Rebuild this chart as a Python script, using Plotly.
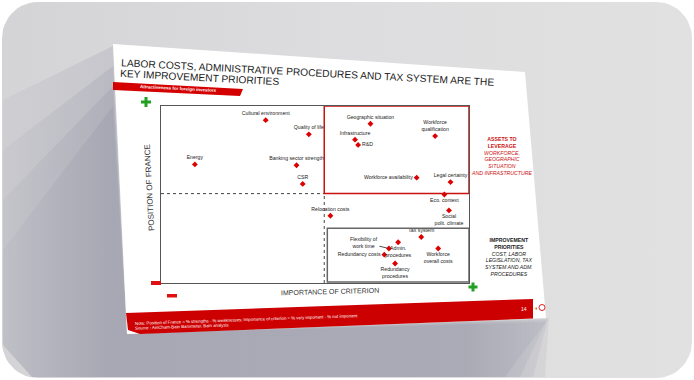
import numpy as np
import plotly.graph_objects as go

W, H = 694, 380

# ---------------- data (0-100 scale) ----------------
criteria = [
    "Cultural environment", "Quality of life", "Energy", "Banking sector strength", "CSR",
    "Geographic situation", "Infrastructure", "R&D", "Workforce<br>qualification",
    "Workforce availability", "Legal certainty", "Eco. context", "Relocation costs",
    "Social<br>polit. climate", "Tax system", "Flexibility of<br>work time",
    "Admin.<br>procedures", "Redundancy costs", "Redundancy<br>procedures",
    "Workforce<br>overall costs",
]
importance = [34, 48, 11, 44, 46, 68, 63, 64, 89, 83, 94, 92, 55, 93.5, 84.5, 74, 77, 72.5, 76, 90]
position_fr = [92, 84, 67, 66.5, 56, 90, 81, 78, 83, 59.5, 57, 50, 38, 41, 26, 19.5, 23, 16, 11, 19.5]

# styling of labels (kept apart from data)
label_side = {
    "R&D": "middle right",
    "Workforce availability": "middle left",
    "Eco. context": "bottom center",
    "Social<br>polit. climate": "bottom center",
    "Admin.<br>procedures": "bottom center",
    "Redundancy costs": "middle left",
    "Redundancy<br>procedures": "bottom center",
    "Workforce<br>overall costs": "bottom center",
}
arrow_labels = {"Flexibility of<br>work time": (-25, -6)}

title_lines = ["LABOR COSTS, ADMINISTRATIVE PROCEDURES AND TAX SYSTEM ARE THE",
               "KEY IMPROVEMENT PRIORITIES"]
tab_text = "Attractiveness for foreign investors"
y_title = "POSITION OF FRANCE"
x_title = "IMPORTANCE OF CRITERION"
assets_text = "<b>ASSETS TO<br>LEVERAGE</b><br><i>WORKFORCE,<br>GEOGRAPHIC<br>SITUATION<br>AND INFRASTRUCTURE</i>"
priorities_text = "<b>IMPROVEMENT<br>PRIORITIES</b><br><i>COST, LABOR<br>LEGISLATION, TAX<br>SYSTEM AND ADM.<br>PROCEDURES</i>"
note_text = "Note: Position of France = % strengths - % weaknesses; Importance of criterion = % very important - % not important"
source_text = "Source : AmCham-Bain Barometer, Bain analysis"
page_no = "14"

# ---------------- figure ----------------
fig = go.Figure()

def rrect(x0, y0, x1, y1, r, n=14):
    xs, ys = [], []
    for cx, cy, a0 in [(x1 - r, y0 + r, -90), (x1 - r, y1 - r, 0), (x0 + r, y1 - r, 90), (x0 + r, y0 + r, 180)]:
        t = np.radians(np.linspace(a0, a0 + 90, n))
        xs += list(cx + r * np.cos(t))
        ys += list(cy + r * np.sin(t))
    return xs + [xs[0]], ys + [ys[0]]

def poly(pts, **kw):
    xs = [p[0] for p in pts] + [pts[0][0]]
    ys = [p[1] for p in pts] + [pts[0][1]]
    fig.add_trace(go.Scatter(x=xs, y=ys, mode="lines", fill="toself", line=dict(width=0),
                             hoverinfo="skip", showlegend=False, xaxis="x", yaxis="y", **kw))

# background panel
px_, py_ = rrect(2, 2, 692, 378, 36)
fig.add_trace(go.Scatter(x=px_, y=py_, mode="lines", fill="toself", line=dict(width=0),
                         fillgradient=dict(type="horizontal", colorscale=[[0, "#d4d4d7"], [0.5, "#dddddf"], [1, "#e1e1e1"]]),
                         hoverinfo="skip", showlegend=False, xaxis="x", yaxis="y"))
# soft shadow of the slide (stacked layers)
shadow_layers = [
    ((113, 46), (3, 100), (545, 377), (549, 318)),
    ((113, 66), (3, 150), (533, 377), (548, 319)),
    ((113, 86), (3, 200), (520, 377), (547, 320)),
    ((113, 106), (3, 250), (505, 377), (546, 322)),
]
for top, left, bot, right in shadow_layers:
    poly([top, left, (3, 345), (32, 377), bot, right, (127, 334)],
         fillgradient=dict(type="horizontal",
                           colorscale=[[0, "rgba(140,140,158,0.08)"], [0.2, "rgba(140,140,158,0.22)"],
                                       [0.85, "rgba(140,140,158,0.22)"], [1, "rgba(140,140,158,0.12)"]]))
# slide
poly([(113, 44), (525, 72), (546, 318), (127, 334)], fillcolor="#ffffff")
# red footer band
poly([(126, 313), (533, 299), (533, 318.5), (140, 334), (128, 330)], fillcolor="#cc0000")
# red tab
poly([(113, 82), (243, 89), (240, 96), (113, 90)], fillcolor="#d40000")

# data trace
texts = ["" if c in arrow_labels else c for c in criteria]
tpos = [label_side.get(c, "top center") for c in criteria]
fig.add_trace(go.Scatter(
    x=importance, y=position_fr, mode="markers+text", text=texts, textposition=tpos,
    marker=dict(symbol="diamond", size=4.5, color="#dd0000"),
    textfont=dict(family="Liberation Sans", size=5.2, color="#222222"),
    hoverinfo="skip", showlegend=False, xaxis="x2", yaxis="y2", cliponaxis=False))

fx0, fx1, fy0, fy1 = 161, 469, 106, 283
fig.update_layout(
    width=W, height=H, margin=dict(l=0, r=0, t=0, b=0),
    paper_bgcolor="#ffffff", plot_bgcolor="rgba(0,0,0,0)",
    xaxis=dict(domain=[0, 1], range=[0, W], visible=False, fixedrange=True),
    yaxis=dict(domain=[0, 1], range=[H, 0], visible=False, fixedrange=True),
    xaxis2=dict(domain=[fx0 / W, fx1 / W], range=[0, 100], showgrid=False, zeroline=False,
                showticklabels=False, ticks="", showline=True, mirror=True, linecolor="#555555",
                linewidth=1.2, anchor="y2", fixedrange=True),
    yaxis2=dict(domain=[1 - fy1 / H, 1 - fy0 / H], range=[0, 100], showgrid=False, zeroline=False,
                showticklabels=False, ticks="", showline=True, mirror=True, linecolor="#555555",
                linewidth=1.2, anchor="x2", fixedrange=True),
    showlegend=False,
)

shapes = []
# quadrant lines and boxes
shapes.append(dict(type="line", xref="x2", yref="y2", x0=0, x1=53, y0=50.5, y1=50.5,
                   line=dict(color="#444444", width=1, dash="dot")))
shapes.append(dict(type="line", xref="x2", yref="y2", x0=53, x1=53, y0=0, y1=50.5,
                   line=dict(color="#444444", width=1, dash="dot")))
shapes.append(dict(type="rect", xref="x2", yref="y2", x0=53, x1=100, y0=50.5, y1=100,
                   line=dict(color="#cc1111", width=1.5)))
shapes.append(dict(type="rect", xref="x2", yref="y2", x0=54, x1=100, y0=0.5, y1=31,
                   line=dict(color="#666666", width=1.5)))
# plus / minus signs (pixel coords on background axes)
def plus(cx, cy, s, t):
    return [dict(type="rect", xref="x", yref="y", x0=cx - s / 2, x1=cx + s / 2, y0=cy - t / 2, y1=cy + t / 2,
                 fillcolor="#22a022", line=dict(width=0)),
            dict(type="rect", xref="x", yref="y", x0=cx - t / 2, x1=cx + t / 2, y0=cy - s / 2, y1=cy + s / 2,
                 fillcolor="#22a022", line=dict(width=0))]
shapes += plus(146, 102, 10, 3)
shapes += plus(473, 287, 9, 3)
for (a, b, c, d) in [(151, 281, 161, 285), (167, 294, 177, 297.5)]:
    shapes.append(dict(type="rect", xref="x", yref="y", x0=a, x1=c, y0=b, y1=d,
                       fillcolor="#e01010", line=dict(width=0)))
# footer icons
shapes.append(dict(type="circle", xref="x", yref="y", x0=539, x1=545, y0=304.5, y1=310.5,
                   line=dict(color="#dd2222", width=1)))
fig.update_layout(shapes=shapes)

ann = []
def txt(x, y, t, size, color="#222222", angle=0, bold=False, xanchor="center", family="Liberation Sans", align="center"):
    ann.append(dict(x=x, y=y, xref="x", yref="y", text=("<b>%s</b>" % t) if bold else t, showarrow=False,
                    textangle=angle, xanchor=xanchor, yanchor="middle", align=align,
                    font=dict(size=size, color=color, family=family)))

txt(308, 72, title_lines[0], 10.2, "#1a1a1a", 3)
txt(199, 77, title_lines[1], 10.2, "#1a1a1a", 3)
txt(178, 88.5, tab_text, 4.5, "#ffffff", 3, bold=True)
txt(149, 188, y_title, 8, "#333333", -93)
txt(330, 291.5, x_title, 7, "#333333", -1.5)
txt(501, 156, assets_text, 5.2, "#cc1111", 0)
txt(509, 257, priorities_text, 5.2, "#1a1a1a", 0)
txt(133, 319.5, note_text, 4.3, "#ffffff", -2, xanchor="left")
txt(133, 326, source_text, 4.3, "#ffffff", -2, xanchor="left")
txt(524, 309, page_no, 5, "#ffffff", 0)
txt(536, 308, "♦", 5, "#e07020", 0)

for c, (ax, ay) in arrow_labels.items():
    i = criteria.index(c)
    ann.append(dict(x=importance[i], y=position_fr[i], xref="x2", yref="y2", text=c, showarrow=True,
                    ax=ax, ay=ay, arrowhead=0, arrowwidth=0.8, arrowcolor="#222222", standoff=2,
                    font=dict(size=5.2, color="#222222", family="Liberation Sans")))
fig.update_layout(annotations=ann)

fig.write_html("out.html", config={"displayModeBar": False},
               post_script="document.body.style.margin='0px';document.body.style.overflow='hidden';")
